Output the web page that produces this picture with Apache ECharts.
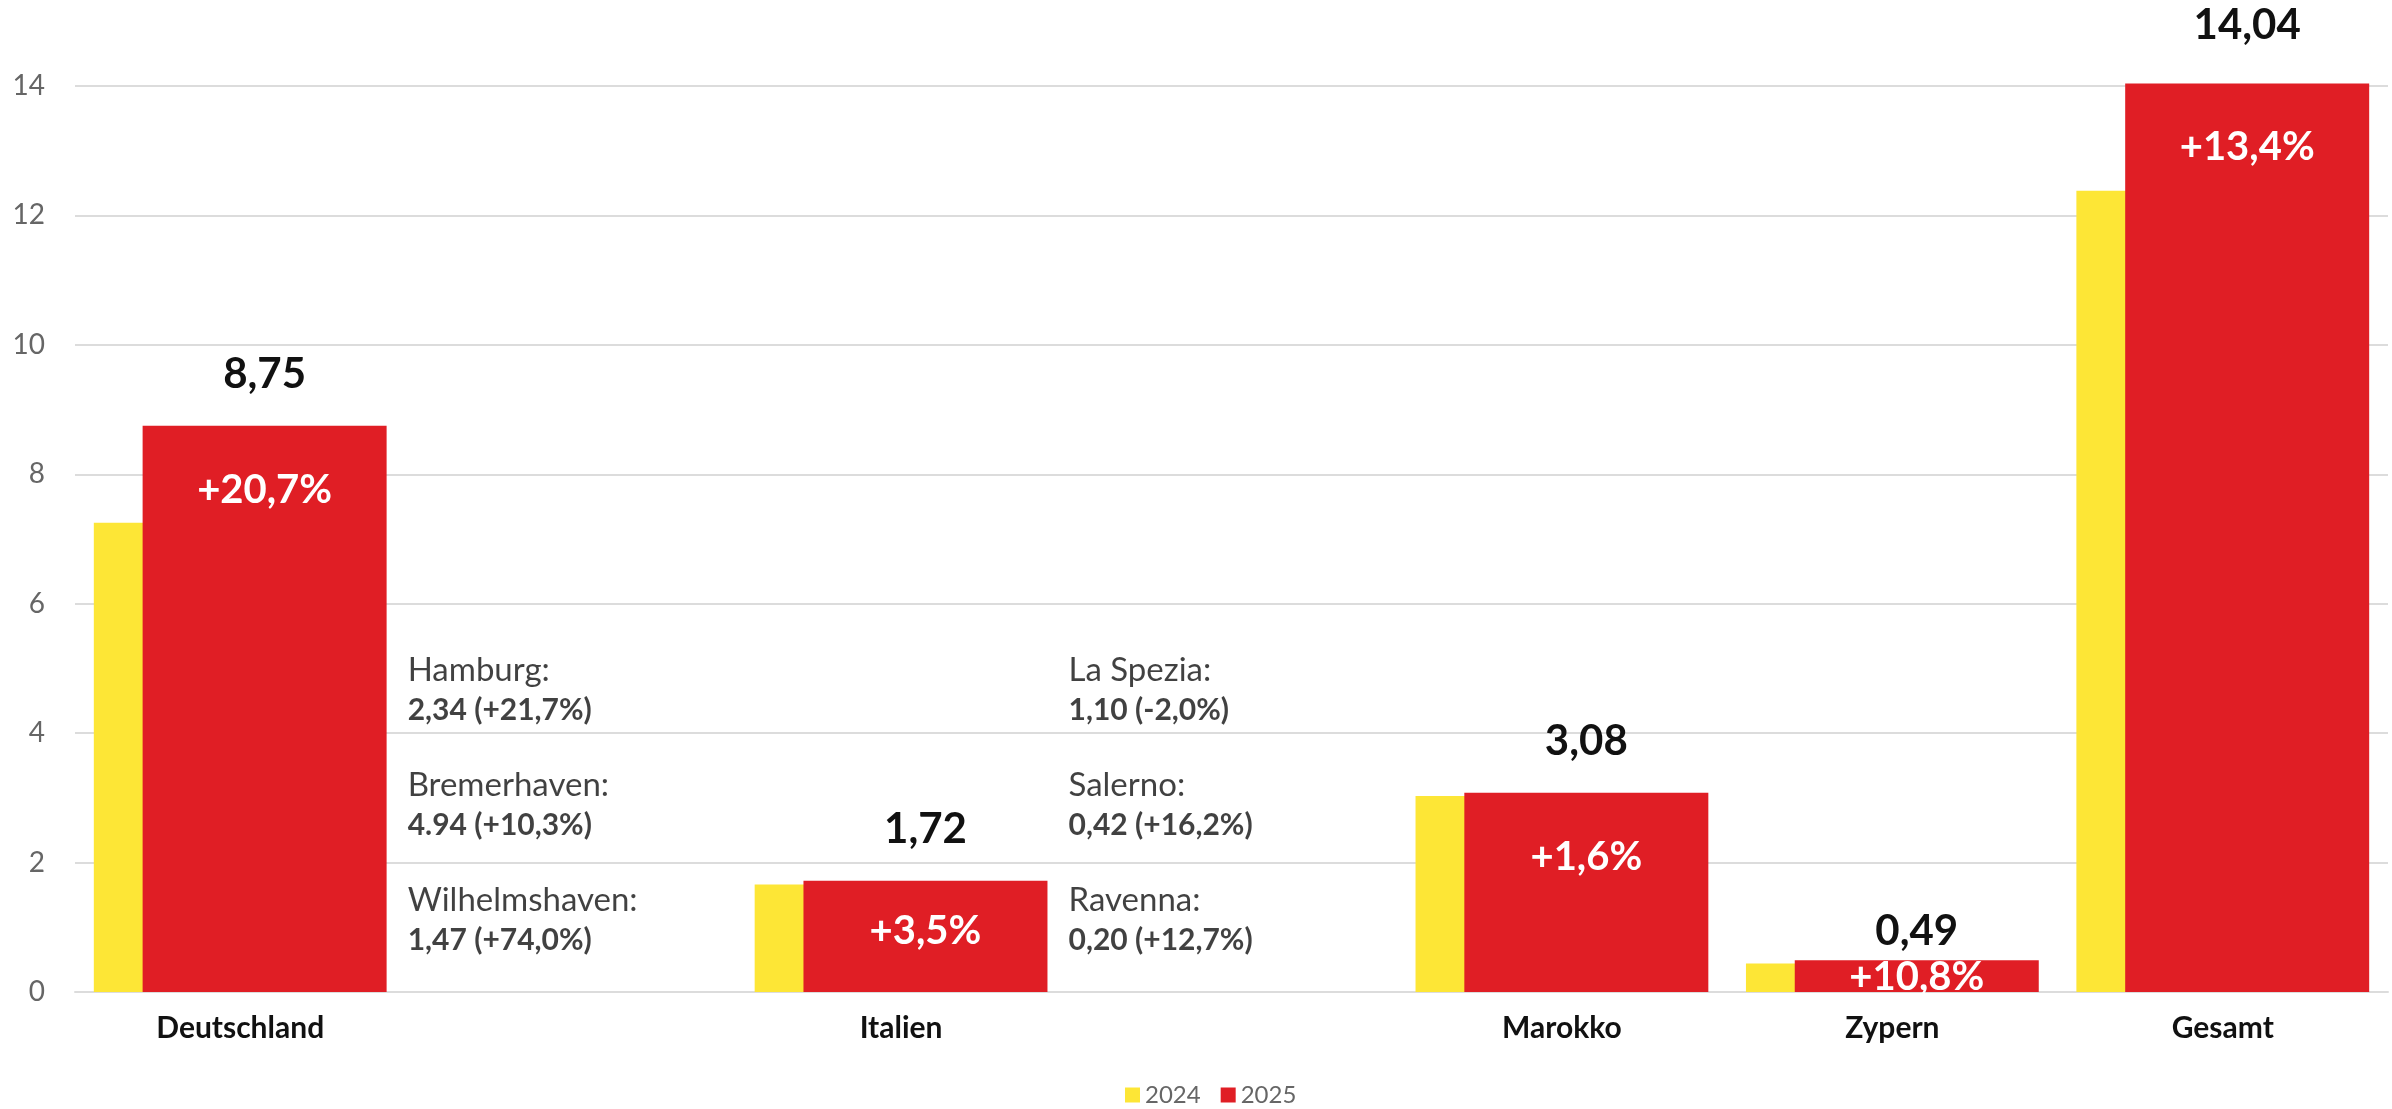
<!DOCTYPE html>
<html>
<head>
<meta charset="utf-8">
<script src="https://cdn.jsdelivr.net/npm/echarts@6/dist/echarts.min.js"></script>
<style>
  html, body { margin: 0; padding: 0; background: #fff; }
  #chart { width: 2392px; height: 1109px; }
</style>
</head>
<body>
<div id="chart"></div>
<script>
// Umschlag in Mio. TEU
var categories = ['Deutschland', '', 'Italien', '', 'Marokko', 'Zypern', 'Gesamt'];
var values2024 = [7.25, '-', 1.66, '-', 3.03, 0.44, 12.38];
var values2025 = [8.75, '-', 1.72, '-', 3.08, 0.49, 14.04];
var change2025 = ['+20,7%', '', '+3,5%', '', '+1,6%', '+10,8%', '+13,4%'];
var yTicks = [0, 2, 4, 6, 8, 10, 12, 14];

// Häfen, in der leeren Spalte neben dem Land
var portNames = ['Hamburg:', 'Bremerhaven:', 'Wilhelmshaven:', 'La Spezia:', 'Salerno:', 'Ravenna:'];
var portFigures = ['2,34 (+21,7%)', '4.94 (+10,3%)', '1,47 (+74,0%)', '1,10 (-2,0%)', '0,42 (+16,2%)', '0,20 (+12,7%)'];
var portColumn = [1, 1, 1, 3, 3, 3];

var font = 'Lato, "Noto Sans", sans-serif';
var red = '#e01e25';
var yellow = '#fde636';
var gridColor = '#dcdcdc';

// Label-Abstände, wo der Balken zu klein ist
var valueDist = { 5: 8, 6: 37 };
var changeDist = { 2: 30, 5: -3 };
var portTop = 4.66, portStep = 1.775;

function fmt(v) {
  return v.toFixed(2).replace('.', ',');
}

var data2025 = values2025.map(function (v, i) {
  var item = { value: v };
  if (valueDist[i] != null) item.label = { distance: valueDist[i] };
  return item;
});

var dataChange = values2025.map(function (v, i) {
  var item = { value: v };
  if (changeDist[i] != null) item.label = { distance: changeDist[i] };
  return item;
});

var portData = portNames.map(function (n, i) {
  return [portColumn[i], portTop - (i % 3) * portStep];
});

var chart = echarts.init(document.getElementById('chart'));

chart.setOption({
  animation: false,
  textStyle: { fontFamily: font },
  grid: { left: 75, right: 4, top: 86, bottom: 117, containLabel: false },
  legend: {
    data: ['2024', '2025'],
    bottom: 2,
    left: 1125,
    padding: 0,
    icon: 'rect',
    itemWidth: 15,
    itemHeight: 15,
    itemGap: 20,
    textStyle: { fontSize: 24, color: '#666', fontFamily: font }
  },
  xAxis: [
    {
      type: 'category',
      data: categories,
      axisTick: { show: false },
      axisLine: { lineStyle: { color: gridColor, width: 2 } },
      axisLabel: {
        interval: 0,
        margin: 21,
        fontSize: 30,
        fontWeight: 'bold',
        color: '#111',
        fontFamily: font
      }
    },
    {
      type: 'category',
      data: categories,
      show: false
    }
  ],
  yAxis: {
    type: 'value',
    min: yTicks[0],
    max: yTicks[yTicks.length - 1],
    interval: 2,
    axisLine: { show: false },
    axisTick: { show: false },
    axisLabel: { fontSize: 28, color: '#666', margin: 30, fontFamily: font },
    splitLine: { lineStyle: { color: gridColor, width: 2 } }
  },
  series: [
    {
      name: '2024',
      type: 'bar',
      data: values2024,
      barWidth: 244,
      barGap: '-80%',
      clip: false,
      itemStyle: { color: yellow }
    },
    {
      name: '2025',
      type: 'bar',
      data: data2025,
      barWidth: 244,
      barGap: '-80%',
      clip: false,
      itemStyle: { color: red },
      label: {
        show: true,
        position: 'top',
        distance: 30,
        fontSize: 42,
        fontWeight: 'bold',
        color: '#111',
        fontFamily: font,
        formatter: function (p) { return fmt(p.value); }
      }
    },
    // unsichtbare Kopie, trägt nur die Veränderung im roten Balken
    {
      name: 'ghost2024',
      type: 'bar',
      xAxisIndex: 1,
      data: values2024,
      barWidth: 244,
      barGap: '-80%',
      silent: true,
      itemStyle: { color: 'rgba(0,0,0,0)' }
    },
    {
      name: 'change',
      type: 'bar',
      xAxisIndex: 1,
      data: dataChange,
      barWidth: 244,
      barGap: '-80%',
      clip: false,
      silent: true,
      z: 5,
      itemStyle: { color: 'rgba(0,0,0,0)' },
      label: {
        show: true,
        position: 'insideTop',
        distance: 44,
        fontSize: 40,
        fontWeight: 'bold',
        color: '#fff',
        fontFamily: font,
        formatter: function (p) { return change2025[p.dataIndex]; }
      }
    },
    {
      name: 'ports',
      type: 'scatter',
      data: portData,
      symbolSize: 0,
      silent: true,
      label: {
        show: true,
        position: 'right',
        distance: -163,
        align: 'left',
        formatter: function (p) {
          return '{n|' + portNames[p.dataIndex] + '}\n{f|' + portFigures[p.dataIndex] + '}';
        },
        rich: {
          n: { fontSize: 33, lineHeight: 40, color: '#111', fontFamily: font },
          f: { fontSize: 30, lineHeight: 40, fontWeight: 'bold', color: '#111', fontFamily: font }
        }
      }
    }
  ]
});
</script>
</body>
</html>
